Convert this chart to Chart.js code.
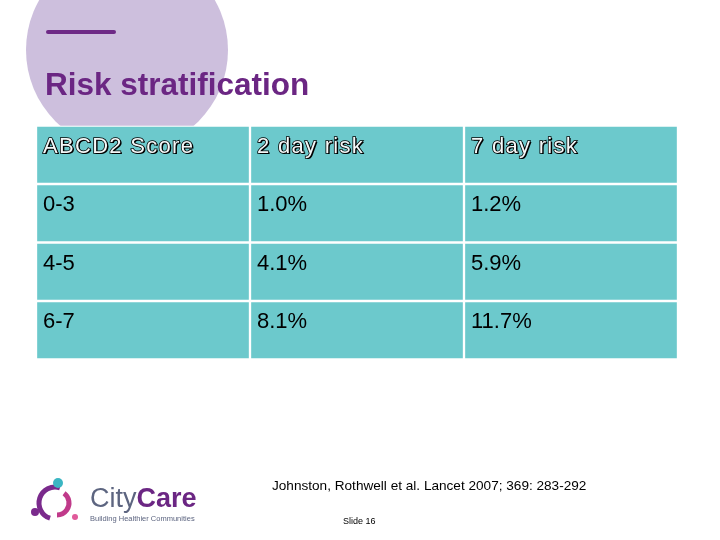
<!DOCTYPE html>
<html><head><meta charset="utf-8">
<script src="https://cdn.jsdelivr.net/npm/chart.js@4"></script>
<style>html,body{margin:0;padding:0;background:#fff}#w{width:720px;height:540px}</style>
</head><body><div id="w"><canvas id="c"></canvas></div>
<script>
const columns = ["ABCD2 Score", "2 day risk", "7 day risk"];
const rows = ["header", "0-3", "4-5", "6-7"];
const scores = ["0-3", "4-5", "6-7"];
const twoDay = ["1.0%", "4.1%", "8.1%"];
const sevenDay = ["1.2%", "5.9%", "11.7%"];
const cellText = [columns, ...scores.map((s, i) => [s, twoDay[i], sevenDay[i]])];

const datasets = columns.map((c, ci) => ({
  label: c,
  data: rows.map(() => [ci, ci + 1]),
  backgroundColor: "#6cc9cc",
  borderColor: "#ffffff",
  borderWidth: 1.5,
  borderSkipped: false,
  barPercentage: 1,
  categoryPercentage: 1,
  grouped: false
}));

const deco = {
  id: "deco",
  beforeDraw(chart) {
    const ctx = chart.ctx;
    ctx.save();
    ctx.fillStyle = "#fff"; ctx.fillRect(0, 0, 720, 540);
    ctx.fillStyle = "#cdbfdd";
    ctx.beginPath(); ctx.arc(127, 50, 101, 0, Math.PI * 2); ctx.fill();
    ctx.strokeStyle = "#6e2a86"; ctx.lineWidth = 4; ctx.lineCap = "round";
    ctx.beginPath(); ctx.moveTo(48, 32); ctx.lineTo(114, 32); ctx.stroke();
    ctx.fillStyle = "#6b2683";
    ctx.font = "bold 31.5px 'Liberation Sans', Arial";
    ctx.textBaseline = "alphabetic";
    ctx.fillText("Risk stratification", 45, 95);
    ctx.restore();
  },
  afterDatasetsDraw(chart) {
    const ctx = chart.ctx, xs = chart.scales.x, ys = chart.scales.y;
    ctx.save();
    ctx.textBaseline = "middle";
    rows.forEach((r, ri) => {
      const yc = ys.getPixelForValue(ri);
      const h = ys.getPixelForValue(1) - ys.getPixelForValue(0);
      cellText[ri].forEach((t, ci) => {
        const x = xs.getPixelForValue(ci) + 7;
        const y = yc - h / 2 + 21;
        if (ri === 0) {
          ctx.font = "22px 'Liberation Sans', Arial";
          ctx.letterSpacing = "1.3px";
          ctx.fillStyle = "#000"; ctx.fillText(t, x + 1.5, y + 1.5);
          ctx.lineWidth = 1.6; ctx.strokeStyle = "#000"; ctx.strokeText(t, x, y);
          ctx.fillStyle = "#f4f8f8"; ctx.fillText(t, x, y);
          ctx.letterSpacing = "0px";
        } else {
          ctx.font = "22px 'Liberation Sans', Arial";
          ctx.fillStyle = "#000"; ctx.fillText(t, x, y);
        }
      });
    });
    ctx.restore();
  },
  afterDraw(chart) {
    const ctx = chart.ctx;
    ctx.save();
    ctx.fillStyle = "#000";
    ctx.font = "13.6px 'Liberation Sans', Arial";
    ctx.fillText("Johnston, Rothwell et al. Lancet 2007; 369: 283-292", 272, 490);
    ctx.font = "9px 'Liberation Sans', Arial";
    ctx.fillText("Slide 16", 343, 524);
    ctx.lineWidth = 5; ctx.strokeStyle = "#7a2a8c";
    ctx.beginPath(); ctx.arc(55, 503, 16, Math.PI * 0.6, Math.PI * 1.6); ctx.stroke();
    ctx.strokeStyle = "#c03a8a";
    ctx.beginPath(); ctx.arc(57, 503, 12, Math.PI * 1.7, Math.PI * 0.5); ctx.stroke();
    ctx.fillStyle = "#3bb6c3"; ctx.beginPath(); ctx.arc(58, 483, 5, 0, 7); ctx.fill();
    ctx.fillStyle = "#7a2a8c"; ctx.beginPath(); ctx.arc(35, 512, 4, 0, 7); ctx.fill();
    ctx.fillStyle = "#e05a9a"; ctx.beginPath(); ctx.arc(75, 517, 3, 0, 7); ctx.fill();
    ctx.font = "27px 'Liberation Sans', Arial";
    ctx.fillStyle = "#5d6580"; ctx.fillText("City", 90, 507);
    const w = ctx.measureText("City").width;
    ctx.font = "bold 27px 'Liberation Sans', Arial";
    ctx.fillStyle = "#6b2683"; ctx.fillText("Care", 90 + w, 507);
    ctx.font = "7.5px 'Liberation Sans', Arial"; ctx.fillStyle = "#5d6580";
    ctx.fillText("Building Healthier Communities", 90, 521);
    ctx.restore();
  }
};

new Chart(document.getElementById("c"), {
  type: "bar",
  data: { labels: rows, datasets },
  options: {
    indexAxis: "y",
    responsive: true, maintainAspectRatio: false, animation: false,
    layout: { padding: { left: 36, right: 42, top: 125.5, bottom: 180.5 } },
    plugins: { legend: { display: false }, tooltip: { enabled: false } },
    scales: {
      x: { type: "linear", min: 0, max: 3, display: false },
      y: { type: "category", display: false }
    }
  },
  plugins: [deco]
});
</script></body></html>
